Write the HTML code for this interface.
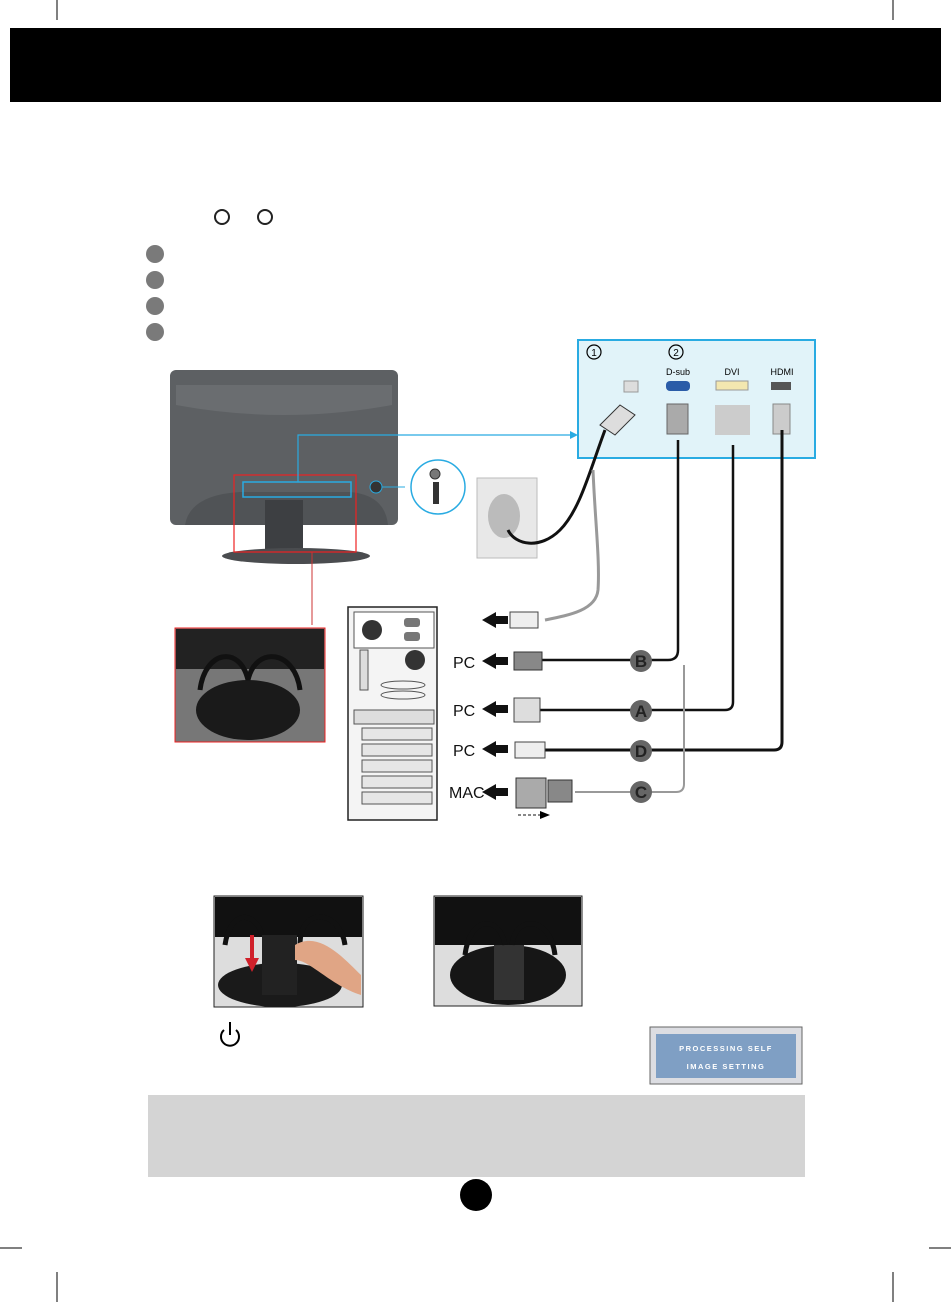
<!DOCTYPE html>
<html><head><meta charset="utf-8"><style>
html,body{margin:0;padding:0;background:#fff}
svg{display:block}
text{font-family:"Liberation Sans",sans-serif}
</style></head><body>
<svg width="951" height="1302" viewBox="0 0 951 1302" xmlns="http://www.w3.org/2000/svg">
<g stroke="#000" stroke-width="1">
<line x1="57" y1="0" x2="57" y2="20"/><line x1="893" y1="0" x2="893" y2="20"/>
<line x1="0" y1="1248" x2="22" y2="1248"/><line x1="929" y1="1248" x2="951" y2="1248"/>
<line x1="57" y1="1272" x2="57" y2="1302"/><line x1="893" y1="1272" x2="893" y2="1302"/>
</g>
<rect x="10" y="28" width="931" height="74" fill="#000"/>
<circle cx="222" cy="217" r="7" fill="none" stroke="#222" stroke-width="2"/>
<circle cx="265" cy="217" r="7" fill="none" stroke="#222" stroke-width="2"/>
<g fill="#7a7a7a"><circle cx="155" cy="254" r="9"/><circle cx="155" cy="280" r="9"/><circle cx="155" cy="306" r="9"/><circle cx="155" cy="332" r="9"/></g>

<rect x="578" y="340" width="237" height="118" fill="#e1f3f9" stroke="#29abe2" stroke-width="2"/>
<circle cx="594" cy="352" r="7" fill="none" stroke="#000" stroke-width="1.2"/><text x="594" y="356" font-size="10" text-anchor="middle">1</text>
<circle cx="676" cy="352" r="7" fill="none" stroke="#000" stroke-width="1.2"/><text x="676" y="356" font-size="10" text-anchor="middle">2</text>
<text x="678" y="375" font-size="9" text-anchor="middle">D-sub</text>
<text x="732" y="375" font-size="9" text-anchor="middle">DVI</text>
<text x="782" y="375" font-size="9" text-anchor="middle">HDMI</text>
<rect x="624" y="381" width="14" height="11" fill="#ddd" stroke="#999"/>
<rect x="666" y="381" width="24" height="10" rx="4" fill="#2a5ca8"/>
<rect x="716" y="381" width="32" height="9" fill="#f3e7b0" stroke="#999"/>
<rect x="771" y="382" width="20" height="8" fill="#555"/>
<rect x="667" y="404" width="21" height="30" fill="#aaa" stroke="#666"/>
<rect x="715" y="405" width="35" height="30" fill="#ccc"/>
<rect x="773" y="404" width="17" height="30" fill="#ccc" stroke="#888"/>
<path d="M600 425 L620 405 L635 415 L615 435 Z" fill="#ddd" stroke="#333"/>

<!-- monitor -->
<rect x="170" y="370" width="228" height="155" rx="6" fill="#5d6063"/>
<path d="M176 385 L392 385 L392 405 Q284 425 176 405 Z" fill="#6a6d70"/>
<path d="M185 525 Q190 495 240 492 L350 492 Q385 495 388 525 Z" fill="#505356"/>
<rect x="265" y="500" width="38" height="52" fill="#3d3f42"/>
<ellipse cx="296" cy="556" rx="74" ry="8" fill="#4a4c4f"/>
<rect x="243" y="482" width="108" height="15" fill="none" stroke="#29abe2" stroke-width="1.5"/>
<rect x="234" y="475" width="122" height="77" fill="none" stroke="#e22" stroke-width="1.2"/>
<polyline points="298,482 298,435 570,435" fill="none" stroke="#29abe2" stroke-width="1.2"/>
<path d="M570 431 L578 435 L570 439 Z" fill="#29abe2"/>
<circle cx="376" cy="487" r="6" fill="#333" stroke="#29abe2"/>
<line x1="382" y1="487" x2="405" y2="487" stroke="#29abe2"/>
<circle cx="438" cy="487" r="27" fill="#fff" stroke="#29abe2" stroke-width="1.5"/>
<circle cx="435" cy="474" r="5" fill="#777" stroke="#333"/>
<rect x="433" y="482" width="6" height="22" fill="#333"/>
<line x1="312" y1="552" x2="312" y2="625" stroke="#c33"/>
<rect x="175" y="628" width="150" height="114" fill="#777" stroke="#e22"/>
<rect x="176" y="629" width="148" height="40" fill="#222"/>
<ellipse cx="248" cy="710" rx="52" ry="30" fill="#1a1a1a"/>
<path d="M200 690 C205 650 240 645 248 680 C256 645 295 650 300 690" fill="none" stroke="#111" stroke-width="5"/>

<rect x="477" y="478" width="60" height="80" fill="#e8e8e8" stroke="#bbb"/>
<ellipse cx="504" cy="516" rx="16" ry="22" fill="#bbb"/>

<path d="M605 430 C590 470 580 510 560 530 C540 550 515 545 508 530" fill="none" stroke="#111" stroke-width="3"/>
<path d="M593 470 C595 520 600 560 598 590 C596 610 570 615 545 620" fill="none" stroke="#999" stroke-width="3"/>
<path d="M678 440 L678 650 Q678 660 668 660 L540 660" fill="none" stroke="#111" stroke-width="2.5"/>
<path d="M733 445 L733 702 Q733 710 725 710 L540 710" fill="none" stroke="#111" stroke-width="2.5"/>
<path d="M782 430 L782 742 Q782 750 774 750 L545 750" fill="none" stroke="#111" stroke-width="3"/>
<path d="M684 665 L684 784 Q684 792 676 792 L575 792" fill="none" stroke="#999" stroke-width="2"/>
<g font-size="17" font-weight="bold" text-anchor="middle" fill="#222">
<circle cx="641" cy="661" r="11" fill="#666"/><text x="641" y="667">B</text>
<circle cx="641" cy="711" r="11" fill="#666"/><text x="641" y="717">A</text>
<circle cx="641" cy="751" r="11" fill="#666"/><text x="641" y="757">D</text>
<circle cx="641" cy="792" r="11" fill="#666"/><text x="641" y="798">C</text>
</g>
<rect x="510" y="612" width="28" height="16" fill="#eee" stroke="#444"/>
<rect x="514" y="652" width="28" height="18" fill="#888" stroke="#333"/>
<rect x="514" y="698" width="26" height="24" fill="#ddd" stroke="#444"/>
<rect x="515" y="742" width="30" height="16" fill="#eee" stroke="#444"/>
<rect x="516" y="778" width="30" height="30" fill="#aaa" stroke="#333"/>
<rect x="548" y="780" width="24" height="22" fill="#888" stroke="#333"/>
<g fill="#111">
<path d="M482 620 L496 612 L496 616 L508 616 L508 624 L496 624 L496 628 Z"/>
<path d="M482 661 L496 653 L496 657 L508 657 L508 665 L496 665 L496 669 Z"/>
<path d="M482 709 L496 701 L496 705 L508 705 L508 713 L496 713 L496 717 Z"/>
<path d="M482 749 L496 741 L496 745 L508 745 L508 753 L496 753 L496 757 Z"/>
<path d="M482 792 L496 784 L496 788 L508 788 L508 796 L496 796 L496 800 Z"/>
</g>
<g font-size="16" fill="#111"><text x="453" y="668">PC</text><text x="453" y="716">PC</text><text x="453" y="756">PC</text><text x="449" y="798">MAC</text></g>
<path d="M518 815 L540 815" stroke="#111" stroke-dasharray="3,2"/><path d="M540 811 L550 815 L540 819 Z"/>
<rect x="348" y="607" width="89" height="213" fill="#f4f4f4" stroke="#222" stroke-width="1.5"/>
<rect x="354" y="612" width="80" height="36" fill="#fff" stroke="#555"/>
<circle cx="372" cy="630" r="10" fill="#333"/><circle cx="415" cy="660" r="10" fill="#333"/>
<rect x="404" y="618" width="16" height="9" rx="3" fill="#777"/><rect x="404" y="632" width="16" height="9" rx="3" fill="#777"/>
<rect x="360" y="650" width="8" height="40" fill="#ddd" stroke="#555"/>
<ellipse cx="403" cy="685" rx="22" ry="4" fill="none" stroke="#555"/>
<ellipse cx="403" cy="695" rx="22" ry="4" fill="none" stroke="#555"/>
<rect x="354" y="710" width="80" height="14" fill="#ddd" stroke="#555"/>
<g fill="#e6e6e6" stroke="#555"><rect x="362" y="728" width="70" height="12"/><rect x="362" y="744" width="70" height="12"/><rect x="362" y="760" width="70" height="12"/><rect x="362" y="776" width="70" height="12"/><rect x="362" y="792" width="70" height="12"/></g>

<rect x="214" y="896" width="149" height="111" fill="#ddd" stroke="#222"/>
<rect x="215" y="897" width="147" height="40" fill="#111"/>
<ellipse cx="280" cy="985" rx="62" ry="22" fill="#1a1a1a"/>
<rect x="262" y="935" width="35" height="60" fill="#222"/>
<path d="M225 945 C230 910 255 910 262 935 M300 945 C300 905 340 910 345 945" fill="none" stroke="#111" stroke-width="5"/>
<path d="M295 945 C320 930 345 960 361 975 L361 995 C330 985 310 960 295 960 Z" fill="#e0a585"/>
<rect x="250" y="935" width="4" height="25" fill="#d0202a"/><path d="M245 958 L252 972 L259 958 Z" fill="#d0202a"/>
<rect x="434" y="896" width="148" height="110" fill="#ddd" stroke="#222"/>
<rect x="435" y="897" width="146" height="48" fill="#111"/>
<ellipse cx="508" cy="975" rx="58" ry="30" fill="#161616"/>
<rect x="494" y="945" width="30" height="55" fill="#333"/>
<path d="M465 955 C470 915 500 915 505 945 M512 945 C515 915 550 915 555 955" fill="none" stroke="#111" stroke-width="5"/>
<path d="M224 1030 A9 9 0 1 0 236 1030" fill="none" stroke="#000" stroke-width="2"/>
<line x1="230" y1="1022" x2="230" y2="1035" stroke="#000" stroke-width="2"/>
<rect x="650" y="1027" width="152" height="57" fill="#dcdde2" stroke="#666"/>
<rect x="656" y="1034" width="140" height="44" fill="#7f9fc4"/>
<g fill="#fff" font-size="7.5" font-weight="bold" text-anchor="middle" letter-spacing="1.5">
<text x="726" y="1051">PROCESSING SELF</text><text x="726" y="1069">IMAGE SETTING</text></g>
<rect x="148" y="1095" width="657" height="82" fill="#d4d4d4"/>
<circle cx="476" cy="1195" r="16" fill="#000"/>
</svg>
</body></html>
